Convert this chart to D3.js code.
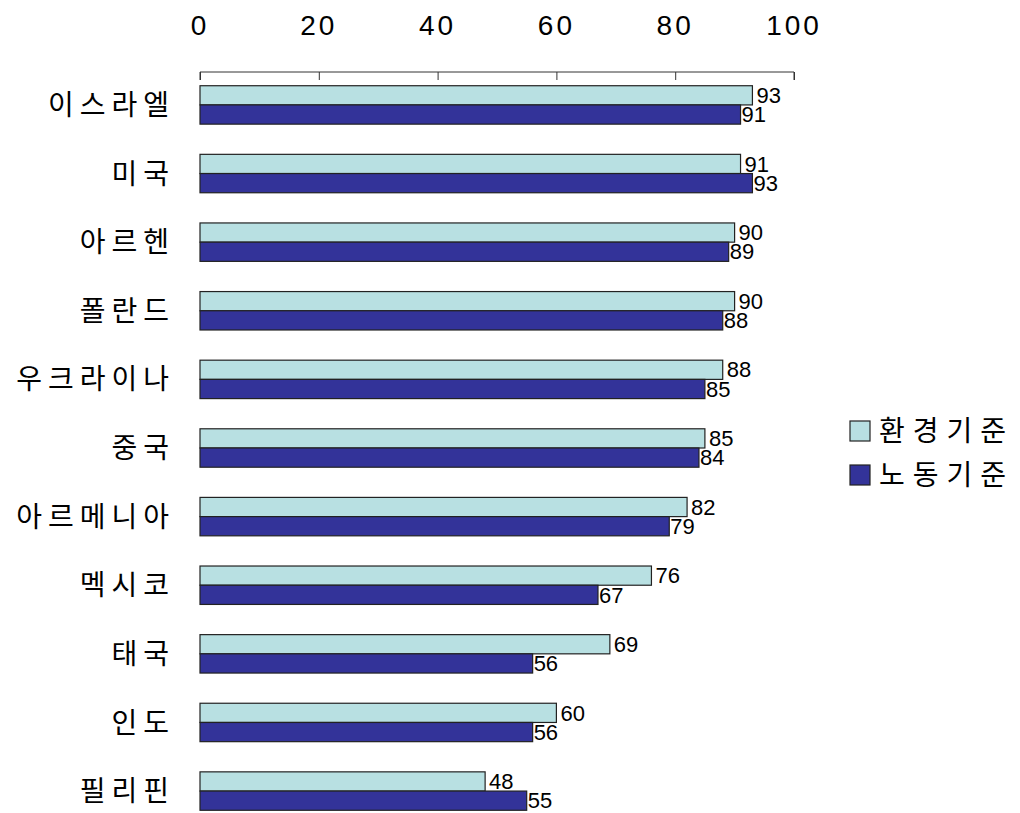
<!DOCTYPE html>
<html>
<head>
<meta charset="utf-8">
<script src="https://cdn.jsdelivr.net/npm/d3@7"></script>
<style>
  body { margin: 0; background: #fff; }
  text { fill: #000; }
</style>
</head>
<body>
<script>
// data
var countries = ["이스라엘", "미국", "아르헨", "폴란드", "우크라이나", "중국", "아르메니아", "멕시코", "태국", "인도", "필리핀"];
var envValues = [93, 91, 90, 90, 88, 85, 82, 76, 69, 60, 48];
var laborValues = [91, 93, 89, 88, 85, 84, 79, 67, 56, 56, 55];
var seriesNames = ["환경기준", "노동기준"];
var seriesColors = ["#b8e0e2", "#333399"];
var xTicks = [0, 20, 40, 60, 80, 100];

var width = 1020;
var height = 813;
var left = 200;
var right = 794;
var axisY = 72;
var bottom = 824;

var svg = d3.select("body").append("svg")
  .attr("width", width)
  .attr("height", height);

var xScale = d3.scaleLinear().domain([0, 100]).range([left, right]);

var yScale = d3.scaleBand()
  .domain(countries)
  .range([axisY, bottom])
  .paddingInner(0.44)
  .paddingOuter(0.2);

var subScale = d3.scaleBand()
  .domain(seriesNames)
  .range([0, yScale.bandwidth()]);

// x axis along the top, tick marks pointing down
var xAxis = d3.axisBottom(xScale).tickValues(xTicks).tickSize(8).tickFormat("");
var axisG = svg.append("g")
  .attr("transform", "translate(0," + axisY + ")")
  .call(xAxis);
axisG.select(".domain").attr("stroke", "#333").attr("d", "M" + left + ",8V0H" + right + "V8");
axisG.selectAll(".tick line").attr("stroke", "#333");

svg.append("g").selectAll("text")
  .data(xTicks)
  .enter()
    .append("text")
    .attr("x", d => xScale(d))
    .attr("y", 35)
    .attr("text-anchor", "middle")
    .attr("font-family", "Liberation Sans")
    .attr("font-size", 28)
    .attr("letter-spacing", 3)
    .text(d => d);

// rows
var rows = countries.map(function(c, i) {
  return { name: c, values: [envValues[i], laborValues[i]] };
});

var rowG = svg.append("g").selectAll("g")
  .data(rows)
  .enter()
    .append("g")
    .attr("transform", d => "translate(0," + yScale(d.name) + ")");

rowG.append("text")
  .attr("x", 175)
  .attr("y", yScale.bandwidth() / 2)
  .attr("dy", "0.36em")
  .attr("text-anchor", "end")
  .attr("font-family", "Noto Sans CJK KR")
  .attr("font-size", 28)
  .attr("letter-spacing", 6)
  .text(d => d.name);

rowG.selectAll("rect")
  .data(d => d.values.map((v, k) => ({ v: v, k: k })))
  .enter()
    .append("rect")
    .attr("x", xScale(0))
    .attr("y", d => subScale(seriesNames[d.k]))
    .attr("width", d => xScale(d.v) - xScale(0))
    .attr("height", subScale.bandwidth())
    .attr("fill", d => seriesColors[d.k])
    .attr("stroke", "#222")
    .attr("stroke-width", 1.2);

rowG.selectAll(".val")
  .data(d => d.values.map((v, k) => ({ v: v, k: k })))
  .enter()
    .append("text")
    .attr("class", "val")
    .attr("x", d => xScale(d.v) + (d.k == 0 ? 4 : 1))
    .attr("y", d => subScale(seriesNames[d.k]) + subScale.bandwidth() / 2)
    .attr("dy", "0.35em")
    .attr("font-family", "Liberation Sans")
    .attr("font-size", 22)
    .text(d => d.v);

// legend
var legend = svg.append("g")
  .attr("transform", "translate(850,421)");

seriesNames.forEach(function(name, i) {
  var item = legend.append("g").attr("transform", "translate(0," + i * 44 + ")");
  item.append("rect")
    .attr("width", 20)
    .attr("height", 20)
    .attr("fill", seriesColors[i])
    .attr("stroke", "#222")
    .attr("stroke-width", 1.2);
  item.append("text")
    .attr("x", 29)
    .attr("y", 10)
    .attr("dy", "0.36em")
    .attr("font-family", "Noto Sans CJK KR")
    .attr("font-size", 28)
    .attr("letter-spacing", 8)
    .text(name);
});
</script>
</body>
</html>
